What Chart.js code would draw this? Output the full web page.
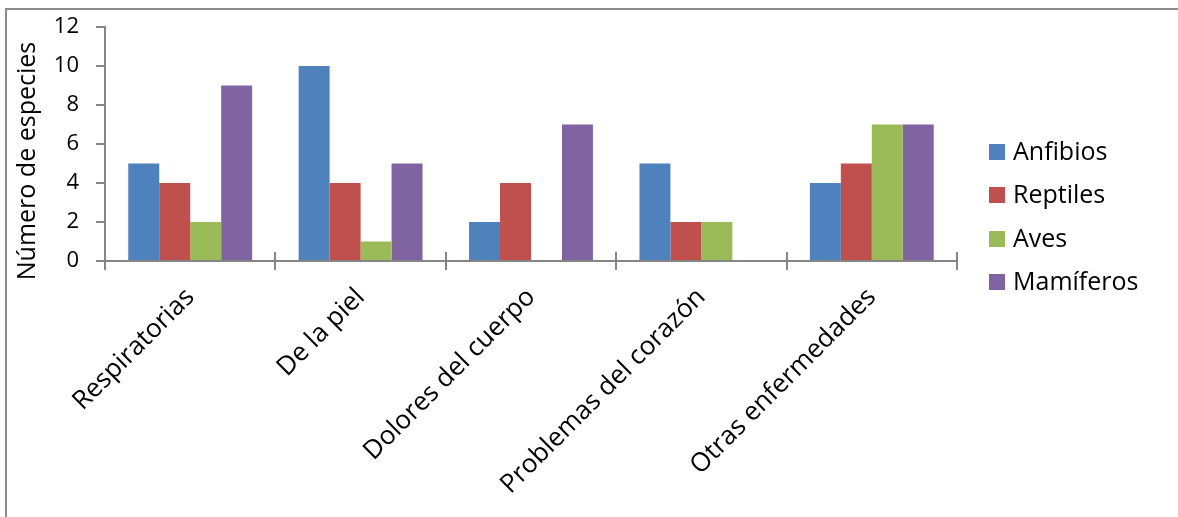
<!DOCTYPE html>
<html lang="es">
<head>
<meta charset="utf-8">
<title>Enfermedades por grupo de especies</title>
<script src="https://cdn.jsdelivr.net/npm/chart.js@4/dist/chart.umd.min.js"></script>
<style>
  html, body { margin: 0; padding: 0; background: #ffffff; }
  #wrap { position: relative; width: 1178px; height: 517px; }
  canvas { display: block; }
</style>
</head>
<body>
<div id="wrap"><canvas id="chart" width="1178" height="517"></canvas></div>
<script>
// Categories (types of illness) and number of species per animal group
const categories = ['Respiratorias', 'De la piel', 'Dolores del cuerpo', 'Problemas del corazón', 'Otras enfermedades'];
const anfibios  = [5, 10, 2, 5, 4];
const reptiles  = [4, 4, 4, 2, 5];
const aves      = [2, 1, 0, 2, 7];
const mamiferos = [9, 5, 7, 0, 7];
const seriesNames = ['Anfibios', 'Reptiles', 'Aves', 'Mamíferos'];
const yTicks = [0, 2, 4, 6, 8, 10, 12];
const yTitle = 'Número de especies';

const colors = ['#4F81BD', '#C0504D', '#9BBB59', '#8064A2'];
const axisColor = '#868686';
const FONT = '"Open Sans", "Noto Sans", sans-serif';

const seriesValues = [anfibios, reptiles, aves, mamiferos];
const datasets = seriesValues.map((vals, i) => ({
  label: seriesNames[i],
  data: vals,
  backgroundColor: colors[i],
  borderWidth: 0,
  barPercentage: 1.0,
  categoryPercentage: 0.727
}));

// Outer frame of the chart (top and left edges)
const framePlugin = {
  id: 'frame',
  beforeDraw(chart) {
    const ctx = chart.ctx;
    ctx.save();
    ctx.strokeStyle = '#8c8c8c';
    ctx.lineWidth = 2;
    ctx.beginPath();
    ctx.moveTo(6, chart.height + 2);
    ctx.lineTo(6, 9);
    ctx.lineTo(chart.width + 2, 9);
    ctx.stroke();
    ctx.restore();
  }
};

// Category tick marks cross the horizontal axis
const crossTicksPlugin = {
  id: 'crossTicks',
  afterDraw(chart) {
    const x = chart.scales.x;
    const ctx = chart.ctx;
    const n = x.ticks.length;
    const step = (x.right - x.left) / n;
    ctx.save();
    ctx.strokeStyle = axisColor;
    ctx.lineWidth = 2;
    ctx.beginPath();
    for (let i = 0; i <= n; i++) {
      const px = Math.round(x.left + i * step);
      ctx.moveTo(px, x.top - 9);
      ctx.lineTo(px, x.top);
    }
    ctx.stroke();
    ctx.restore();
  }
};

// Vertical axis title
const yTitlePlugin = {
  id: 'yTitle',
  afterDraw(chart) {
    const ctx = chart.ctx;
    ctx.save();
    ctx.translate(28, 161);
    ctx.rotate(-Math.PI / 2);
    ctx.fillStyle = '#000';
    ctx.font = '25px ' + FONT;
    ctx.textAlign = 'center';
    ctx.textBaseline = 'middle';
    ctx.fillText(yTitle, 0, 0);
    ctx.restore();
  }
};

// Legend on the right
const sideLegendPlugin = {
  id: 'sideLegend',
  afterDraw(chart) {
    const ctx = chart.ctx;
    const x0 = 989, y0 = 152, gap = 43.3, box = 16;
    ctx.save();
    ctx.font = '25px ' + FONT;
    ctx.textAlign = 'left';
    ctx.textBaseline = 'middle';
    chart.data.datasets.forEach((ds, i) => {
      const cy = y0 + i * gap;
      ctx.fillStyle = ds.backgroundColor;
      ctx.fillRect(x0, Math.round(cy - box / 2), box, box);
      ctx.fillStyle = '#000';
      ctx.fillText(ds.label, x0 + 24, cy + 1);
    });
    ctx.restore();
  }
};

new Chart(document.getElementById('chart'), {
  type: 'bar',
  data: { labels: categories, datasets },
  options: {
    responsive: false,
    animation: false,
    devicePixelRatio: 1,
    layout: { padding: { left: 0, top: 27, right: 221, bottom: 0 } },
    plugins: {
      legend: { display: false },
      tooltip: { enabled: false }
    },
    scales: {
      x: {
        offset: true,
        grid: { drawOnChartArea: false, offset: true, tickLength: 9, color: axisColor, lineWidth: 2 },
        border: { color: axisColor, width: 2 },
        ticks: {
          color: '#000',
          font: { family: FONT, size: 26 },
          maxRotation: 45,
          minRotation: 45,
          padding: 12,
          autoSkip: false
        },
        afterFit(scale) { scale.height = 256; scale.paddingLeft = 0; scale.paddingRight = 0; }
      },
      y: {
        min: 0,
        max: 12,
        afterBuildTicks(scale) { scale.ticks = yTicks.map(v => ({ value: v })); },
        grid: { drawOnChartArea: false, tickLength: 9, color: axisColor, lineWidth: 2 },
        border: { color: axisColor, width: 2 },
        ticks: {
          color: '#000',
          font: { family: FONT, size: 22 },
          padding: 17
        },
        afterFit(scale) { scale.width = 105; scale.paddingTop = 0; scale.paddingBottom = 0; }
      }
    }
  },
  plugins: [framePlugin, crossTicksPlugin, yTitlePlugin, sideLegendPlugin]
});
</script>
</body>
</html>
